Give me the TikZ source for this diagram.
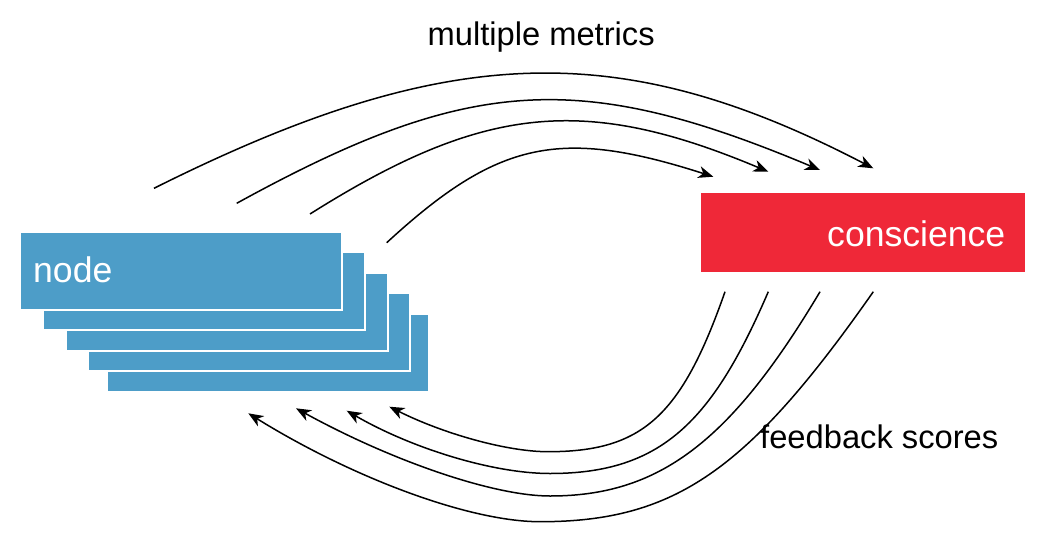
\documentclass[tikz,border=0pt]{standalone}
\usepackage{fontspec}
\setmainfont{Liberation Sans}
\usetikzlibrary{arrows.meta}
\definecolor{nodeblue}{RGB}{77,157,200}
\definecolor{consred}{RGB}{239,40,56}
\tikzset{
  bluebox/.style={rectangle, fill=nodeblue, draw=white, line width=2pt, inner sep=0pt,
    minimum width=322pt, minimum height=78pt, anchor=north west},
  redbox/.style={rectangle, fill=consred, inner sep=0pt, anchor=north west,
    minimum width=324pt, minimum height=79pt},
  boxtext/.style={text=white, inner sep=0pt, anchor=base west, font=\fontsize{35.6}{40}\selectfont},
  labeltext/.style={text=black, inner sep=0pt, anchor=base west, font=\fontsize{32.7}{38}\selectfont},
  flow/.style={line width=1.5pt, -{Stealth[length=15pt,width=12pt,inset=4.5pt]}}
}
\begin{document}
\begin{tikzpicture}[x=1pt,y=-1pt]
\useasboundingbox (0,0) rectangle (1048,538);
% stacked node boxes (back to front)
\node[bluebox] (n5) at (106,313) {};
\node[bluebox] (n4) at (87,292) {};
\node[bluebox] (n3) at (65,272) {};
\node[bluebox] (n2) at (42,251) {};
\node[bluebox] (n1) at (19,231) {};
\node[boxtext] (nodelabel) at (33,282.7) {node};
% conscience box
\node[redbox] (cons) at (701,193) {};
\node[boxtext] (conslabel) at (827,246) {conscience};
% labels
\node[labeltext] (metrics) at (427.4,45) {multiple metrics};
\node[labeltext] (scores) at (760,448) {feedback scores};
% endpoints
\coordinate (t1s) at (154,188.3); \coordinate (t1e) at (873.3,168.3);
\coordinate (t2s) at (236.7,203.3); \coordinate (t2e) at (820,170);
\coordinate (t3s) at (310,214); \coordinate (t3e) at (768.3,171.7);
\coordinate (t4s) at (386.7,242.7); \coordinate (t4e) at (713.3,176.7);
\coordinate (bAs) at (725,291.7); \coordinate (bAe) at (389.3,406.7);
\coordinate (bBs) at (768.3,291.7); \coordinate (bBe) at (346.7,410.7);
\coordinate (bCs) at (820,291.7); \coordinate (bCe) at (296,408.3);
\coordinate (bDs) at (873.3,291.7); \coordinate (bDe) at (248.3,413.3);
% multiple metrics arcs
\draw[flow] (t1s) .. controls (447.6,41.5) and (620.2,36.7) .. (t1e);
\draw[flow] (t2s) .. controls (469.1,75.5) and (579.9,69.2) .. (t2e);
\draw[flow] (t3s) .. controls (484.4,104.1) and (585.2,94.8) .. (t3e);
\draw[flow] (t4s) .. controls (498.2,140.1) and (560.2,127.6) .. (t4e);
% feedback score arcs
\draw[flow] (bAs) .. controls (681.3,416.5) and (642.4,451.7) .. (548,451.7)
   .. controls (506.8,451.7) and (443.3,433.7) .. (bAe);
\draw[flow] (bBs) .. controls (712.4,421.3) and (661.8,473.5) .. (550,473.5)
   .. controls (493,473.5) and (411.7,448.4) .. (bBe);
\draw[flow] (bCs) .. controls (730,442.9) and (658.3,496) .. (550,496)
   .. controls (493.3,496) and (391.7,460.9) .. (bCe);
\draw[flow] (bDs) .. controls (747.7,471.1) and (674.5,521.7) .. (540,521.7)
   .. controls (469.9,521.7) and (353.2,478.3) .. (bDe);
\end{tikzpicture}
\end{document}
